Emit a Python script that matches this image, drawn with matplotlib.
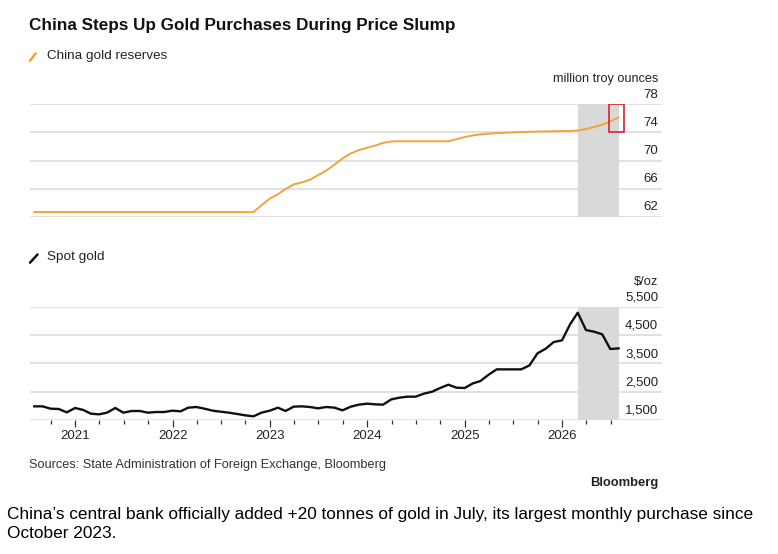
import matplotlib
matplotlib.use("Agg")
import matplotlib.pyplot as plt
import matplotlib.dates as mdates
from matplotlib.lines import Line2D
from matplotlib.patches import Rectangle
import numpy as np
import pandas as pd

plt.rcParams['font.family'] = ['Liberation Sans', 'DejaVu Sans']

# month-end dates, Jul 2020 .. Jul 2026
months = pd.date_range('2020-07-31', periods=73, freq='ME')

# China gold reserves, million troy ounces
reserves = [62.66] * 28 + [
    63.64, 64.58, 65.19, 65.94, 66.60, 66.88, 67.26, 67.91, 68.57, 69.41,
    70.30, 71.01, 71.48, 71.81, 72.13, 72.51, 72.70,
] + [72.74] * 7 + [
    73.03, 73.34, 73.57, 73.72, 73.81, 73.90, 73.95, 74.00, 74.05, 74.09,
    74.12, 74.14, 74.17, 74.19, 74.21, 74.28, 74.47, 74.76, 75.09, 75.56,
    76.13,
]

# spot gold, $/oz
gold = [
    1982, 1982, 1900, 1888, 1770, 1924, 1853, 1724, 1700, 1759,
    1924, 1759, 1818, 1818, 1759, 1782, 1782, 1829, 1806, 1935,
    1959, 1900, 1829, 1794, 1759, 1712, 1665, 1629, 1759, 1829,
    1935, 1818, 1971, 1982, 1959, 1912, 1959, 1935, 1841, 1971,
    2041, 2076, 2053, 2041, 2229, 2288, 2324, 2324, 2429, 2500,
    2629, 2747, 2641, 2629, 2794, 2876, 3100, 3288, 3288, 3288,
    3288, 3429, 3853, 4018, 4253, 4312, 4888, 5288, 4676, 4618,
    4524, 4006, 4029,
]

res_ticks = [62, 66, 70, 74, 78]
gold_ticks = [1500, 2500, 3500, 4500, 5500]
gold_labels = ['1,500', '2,500', '3,500', '4,500', '5,500']
years = [2021, 2022, 2023, 2024, 2025, 2026]

shade_start = pd.Timestamp('2026-02-28')
shade_end = pd.Timestamp('2026-07-31')
x_left = pd.Timestamp('2020-07-15')
x_right = pd.Timestamp('2027-01-10')

ORANGE = '#f2a33a'
GRID = '#dedede'
SHADE = '#d9d9d9'

W, H = 778, 554
fig = plt.figure(figsize=(W / 100, H / 100), dpi=100)


def fx(x):
    return x / W


def fy(y):
    return 1 - y / H


ax1 = fig.add_axes([fx(30), fy(216.7), fx(632), 112.4 / H])
ax2 = fig.add_axes([fx(30), fy(420), fx(632), 113.3 / H])

for ax, ticks, labels, lo, hi in [
    (ax1, res_ticks, [str(t) for t in res_ticks], 62, 78),
    (ax2, gold_ticks, gold_labels, 1500, 5500),
]:
    for t, lab in zip(ticks, labels):
        ax.axhline(t, color=GRID, lw=1.3, zorder=1)
        ax.annotate(lab, xy=(0.994, t), xycoords=('axes fraction', 'data'),
                    xytext=(0, 4.5), textcoords='offset points',
                    ha='right', va='baseline', fontsize=9.5, color='#222222')
    ax.axvspan(shade_start, shade_end, color=SHADE, lw=0, zorder=1.5)
    ax.set_xlim(x_left, x_right)
    ax.set_ylim(lo, hi)
    for s in ax.spines.values():
        s.set_visible(False)
    ax.set_yticks([])
    ax.patch.set_alpha(0)

ax1.plot(months, reserves, color=ORANGE, lw=1.4, zorder=3)
ax1.set_xticks([])

x0 = mdates.date2num(pd.Timestamp('2026-06-27'))
x1 = mdates.date2num(pd.Timestamp('2026-08-22'))
ax1.add_patch(Rectangle((x0, 74), x1 - x0, 4, fill=False,
                        edgecolor='#d8232a', lw=1.2, zorder=4))

ax2.plot(months, gold, color='#111111', lw=1.7, zorder=3)
major = [pd.Timestamp(f'{y}-01-01') for y in years]
minor = [d for d in pd.date_range('2020-10-01', '2026-07-01', freq='QS-JAN')
         if d.month != 1]
ax2.set_xticks(major)
ax2.set_xticklabels([str(y) for y in years])
ax2.set_xticks(minor, minor=True)
ax2.tick_params(axis='x', which='major', length=5, width=0.9, color='#333333',
                pad=2, labelsize=9.5, labelcolor='#222222')
ax2.tick_params(axis='x', which='minor', length=3, width=0.9, color='#333333')

# header and legend
fig.text(fx(29), fy(25.5), 'China Steps Up Gold Purchases During Price Slump',
         fontsize=12.3, fontweight='bold', va='center', ha='left', color='#111111')
fig.add_artist(Line2D([fx(30), fx(35.7)], [fy(60.7), fy(53.3)], color=ORANGE,
                      lw=1.8, solid_capstyle='round'))
fig.text(fx(46.7), fy(56), 'China gold reserves', fontsize=9.7, va='center', color='#222222')
fig.add_artist(Line2D([fx(30), fx(37.5)], [fy(262.7), fy(254.5)], color='#111111',
                      lw=1.8, solid_capstyle='round'))
fig.text(fx(46.7), fy(257), 'Spot gold', fontsize=9.7, va='center', color='#222222')

fig.text(fx(658), fy(79), 'million troy ounces', fontsize=9.1, ha='right', va='center',
         color='#222222')
fig.text(fx(658), fy(282), '$/oz', fontsize=9.3, ha='right', va='center', color='#222222')

fig.text(fx(29), fy(465), 'Sources: State Administration of Foreign Exchange, Bloomberg',
         fontsize=9.2, va='center', color='#333333')
fig.text(fx(658), fy(483), 'Bloomberg', fontsize=9.4, fontweight='bold', ha='right',
         va='center', color='#222222')

fig.text(fx(7), fy(524),
         'China\u2019s central bank officially added +20 tonnes of gold in July, '
         'its largest monthly purchase since\nOctober 2023.',
         fontsize=12.4, va='center', ha='left', linespacing=1.35, color='black')

fig.savefig('out.png', dpi=100)
